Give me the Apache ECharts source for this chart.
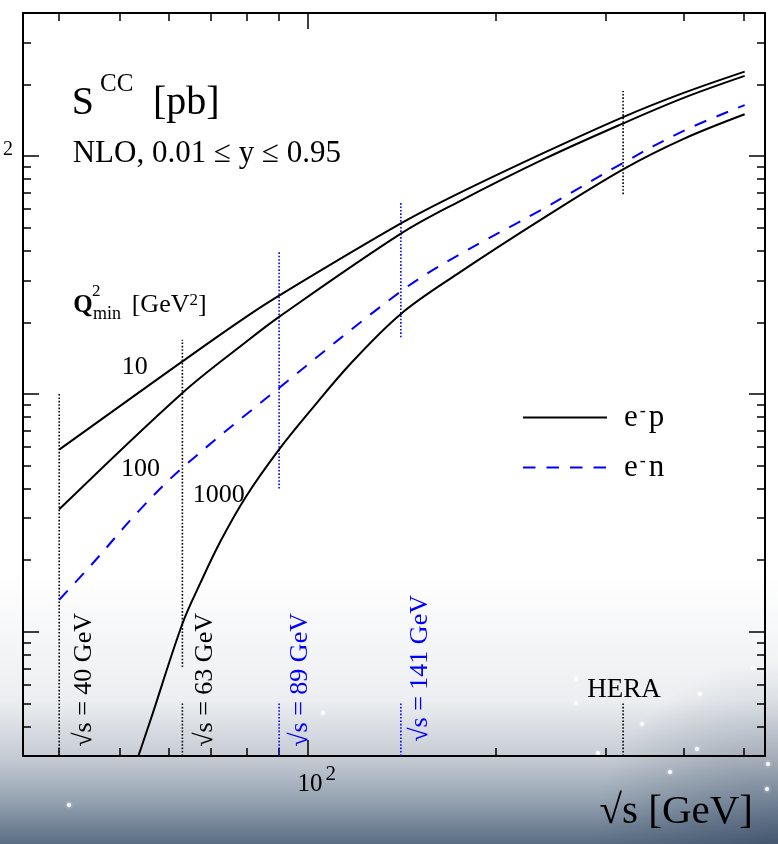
<!DOCTYPE html>
<html>
<head>
<meta charset="utf-8">
<script src="https://cdn.jsdelivr.net/npm/echarts@6/dist/echarts.min.js"></script>
<style>
html, body { margin: 0; padding: 0; background: #fff; }
#chart { width: 778px; height: 844px; }
</style>
</head>
<body>
<div id="chart"></div>
<script>
// sqrt(s) [GeV] , sigma [pb]
var epQ10 = [[40, 5.83], [63, 13.7], [78, 20.3], [90, 25.9], [141, 52.1], [173.5, 69.2], [238.8, 103.2], [320, 146], [400, 184.5], [501, 226.8]];
var epQ100 = [[40, 3.27], [63, 10.1], [80, 16.7], [90, 21.1], [141, 47.2], [173.5, 63.8], [238.8, 97.1], [320, 137.3], [400, 175.8], [501, 217.5]];
var epQ1000 = [[52, 0.239], [56, 0.424], [63, 1.08], [67.3, 1.6], [72.5, 2.4], [79.5, 3.67], [90, 5.84], [101, 8.5], [117.1, 13.4], [141, 21.7], [173.5, 31.9], [238.8, 55.0], [320, 88.0], [400, 118.2], [501, 150]];
var enQ = [[40, 1.363], [45.2, 1.93], [53.7, 3.23], [63, 4.89], [90, 10.6], [141, 27.0], [173.5, 38.1], [238.8, 60.2], [320, 93.7], [400, 127.8], [501, 164]];

// vertical dotted markers
var markerS = [40, 63, 90, 141, 320];
var markerText = ['√s = 40 GeV', '√s = 63 GeV', '√s = 89 GeV', '√s = 141 GeV', 'HERA'];
var markerColor = ['#000', '#000', '#0000ff', '#0000ff', '#000'];
var markerTop = [[0.3, 10], [0.71, 16.9], [4.0, 39.7], [17.3, 64.5], [69.2, 188]];
var markerLow = [null, [0.3, 0.5], [0.3, 0.5], [0.3, 0.5], [0.3, 0.5]];

// axes
var xRange = [35, 540];
var yRange = [0.3, 400];
var xMajor = [100];
var xMinor = [40, 50, 60, 70, 80, 90, 200, 300, 400, 500];
var yMajor = [1, 10, 100];
var yMinor = [0.4, 0.5, 0.6, 0.7, 0.8, 0.9, 2, 3, 4, 5, 6, 7, 8, 9, 20, 30, 40, 50, 60, 70, 80, 90, 200, 300];

// background stars (pixel positions of the decoration)
var stars = [[69, 805], [323, 713], [576, 679], [576, 703], [598, 753], [642, 724], [670, 772], [697, 749], [700, 694], [753, 668], [768, 764], [767, 789]];

var FONT = 'Liberation Serif';
var lg = function (v) { return Math.log10(v); };

function toLog(arr) {
  return arr.map(function (d) { return [lg(d[0]), lg(d[1])]; });
}

function axis(kind, pos, ticks, len, showLine, label) {
  var r = kind === 'x' ? xRange : yRange;
  return {
    type: 'value',
    position: pos,
    min: lg(r[0]),
    max: lg(r[1]),
    splitLine: { show: false },
    axisLine: { show: showLine, onZero: false, lineStyle: { color: '#000', width: 2 } },
    axisTick: { show: true, inside: true, length: len, customValues: ticks.map(lg), lineStyle: { color: '#000', width: 1.5 } },
    axisLabel: label || { show: false }
  };
}

// "10" with a raised "2"
var base10 = { fontFamily: FONT, fontSize: 25, color: '#000', padding: [8, 0, 0, 0] };

var xAxes = [
  axis('x', 'bottom', xMajor, 16, true, {
    show: true, customValues: xMajor.map(lg), margin: 8,
    formatter: function () { return '{p|}{b|10}{s|2}'; },
    rich: {
      p: { width: 18 },
      b: base10,
      s: { fontFamily: FONT, fontSize: 21, color: '#000', verticalAlign: 'top', padding: [0, 0, 0, 3] }
    }
  }),
  axis('x', 'bottom', xMinor, 8, false),
  axis('x', 'top', xMajor, 16, true),
  axis('x', 'top', xMinor, 8, false)
];
xAxes[0].name = '√s [GeV]';
xAxes[0].nameLocation = 'end';
xAxes[0].nameGap = -12;
xAxes[0].nameMoveOverlap = false;
xAxes[0].nameTextStyle = { fontFamily: FONT, fontSize: 41, color: '#000', align: 'right', verticalAlign: 'top', padding: [36, 0, 0, 0] };

var yAxes = [
  axis('y', 'left', yMajor, 16, true, {
    show: true, customValues: [lg(100)], margin: 10,
    formatter: function () { return '{b|10}{s|2}'; },
    rich: {
      b: base10,
      s: { fontFamily: FONT, fontSize: 20, color: '#000', verticalAlign: 'top', padding: [0, 0, 0, 6] }
    }
  }),
  axis('y', 'left', yMinor, 8, false),
  axis('y', 'right', yMajor, 16, true),
  axis('y', 'right', yMinor, 8, false)
];

var series = [];
function curve(name, data, color, type) {
  series.push({
    name: name,
    type: 'line',
    data: toLog(data),
    symbol: 'none',
    smooth: 0.35,
    silent: true,
    z: 5,
    itemStyle: { color: color },
    lineStyle: { color: color, width: 2, type: type }
  });
}
curve('e-p', epQ10, '#000', 'solid');
curve('e-p', epQ100, '#000', 'solid');
curve('e-p', epQ1000, '#000', 'solid');
curve('e-n', enQ, '#0000ff', [12.5, 11]);

for (var i = 0; i < markerS.length; i++) {
  var segs = [markerTop[i], markerLow[i]];
  for (var k = 0; k < segs.length; k++) {
    if (!segs[k]) continue;
    series.push({
      name: 'mark' + i + '_' + k,
      type: 'line',
      data: [[lg(markerS[i]), lg(segs[k][0])], [lg(markerS[i]), lg(segs[k][1])]],
      symbol: 'none',
      silent: true,
      z: 4,
      lineStyle: { color: markerColor[i], width: 1.6, type: [1.6, 1.8] }
    });
  }
}

// text helper, "base" is the text baseline
function label(str, x, base, size, extra) {
  var st = {
    text: str, fontFamily: FONT, fontSize: size, fill: '#000',
    align: 'left', verticalAlign: 'middle', textAlign: 'left', textVerticalAlign: 'middle'
  };
  for (var key in extra) st[key] = extra[key];
  return { type: 'text', x: x, y: base - 0.3 * size, z: 10, silent: true, style: st };
}

var graphics = [
  {
    type: 'rect', z: -10, silent: true,
    shape: { x: 0, y: 0, width: 778, height: 844 },
    style: {
      fill: {
        type: 'linear', x: 0, y: 0, x2: 0, y2: 1,
        colorStops: [
          { offset: 0, color: '#ffffff' },
          { offset: 0.68, color: '#ffffff' },
          { offset: 0.83, color: '#eceef1' },
          { offset: 0.9, color: '#c4cad2' },
          { offset: 0.95, color: '#93a1b0' },
          { offset: 1, color: '#5b6d83' }
        ]
      }
    }
  },
  {
    // bottom right corner is a little darker
    type: 'rect', z: -9, silent: true,
    shape: { x: 300, y: 660, width: 478, height: 184 },
    style: {
      fill: {
        type: 'radial', x: 1, y: 1, r: 1,
        colorStops: [
          { offset: 0, color: 'rgba(25,45,75,0.35)' },
          { offset: 1, color: 'rgba(25,45,75,0)' }
        ]
      }
    }
  },
  label('S', 71.7, 115, 40),
  label('CC', 100, 92, 25),
  label('[pb]', 153, 115, 40),
  label('NLO, 0.01 ≤ y ≤ 0.95', 72.7, 163.3, 31),
  label('Q', 73.3, 313, 25, { fontWeight: 'bold' }),
  label('2', 92, 297, 17),
  label('min', 93, 320, 18),
  label('[GeV{s|2}]', 131.7, 313, 26, { rich: { s: { fontFamily: FONT, fontSize: 17, verticalAlign: 'top' } } }),
  label('10', 121.7, 375, 26),
  label('100', 121, 476.7, 26),
  label('1000', 192.7, 503.3, 26),
  label('HERA', 587.3, 698.3, 27)
];

for (var t = 0; t < stars.length; t++) {
  graphics.push({
    type: 'circle', z: -8, silent: true,
    shape: { cx: stars[t][0], cy: stars[t][1], r: 2 },
    style: { fill: 'rgba(255,255,255,0.9)', shadowBlur: 3, shadowColor: '#ffffff' }
  });
}

// rotated marker labels
var rotBase = [91.7, 213.3, 308.3, 428.3];
var rotStart = [746.7, 746.7, 746.7, 741.7];
for (var j = 0; j < 4; j++) {
  graphics.push({
    type: 'text', x: rotBase[j] - 0.3 * 26, y: rotStart[j], rotation: Math.PI / 2, z: 10, silent: true,
    style: {
      text: markerText[j], fontFamily: FONT, fontSize: 26, fill: markerColor[j],
      align: 'left', verticalAlign: 'middle', textAlign: 'left', textVerticalAlign: 'middle'
    }
  });
}

var chart = echarts.init(document.getElementById('chart'));
chart.setOption({
  animation: false,
  textStyle: { fontFamily: FONT },
  grid: { left: 23, top: 13, right: 13, bottom: 88, containLabel: false, outerBoundsMode: 'none' },
  legend: {
    data: ['e-p', 'e-n'],
    orient: 'vertical',
    left: 522,
    top: 402,
    padding: 0,
    itemWidth: 84,
    itemHeight: 30,
    itemGap: 19,
    selectedMode: false,
    itemStyle: { color: 'rgba(0,0,0,0)', borderWidth: 0, opacity: 0 },
    formatter: function (name) {
      return name === 'e-p' ? '{b|e}{s|-}{b|p}' : '{b|e}{s|-}{b|n}';
    },
    textStyle: {
      padding: [0, 0, 0, 12],
      rich: {
        b: { fontFamily: FONT, fontSize: 31, color: '#000' },
        s: { fontFamily: FONT, fontSize: 18, color: '#000', verticalAlign: 'top', padding: [0, 3, 0, 2] }
      }
    }
  },
  xAxis: xAxes,
  yAxis: yAxes,
  graphic: graphics,
  series: series
});
</script>
</body>
</html>
